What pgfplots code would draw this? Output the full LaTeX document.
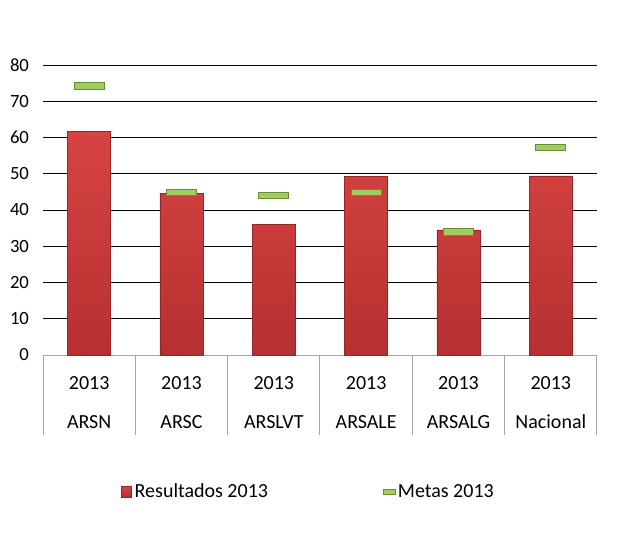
\documentclass[border=0pt]{standalone}
\usepackage{fontspec}
\setmainfont{Carlito}
\usepackage{pgfplots}
\pgfplotsset{compat=1.18}
\definecolor{barlight}{RGB}{214,68,66}
\definecolor{bardark}{RGB}{182,48,48}
\definecolor{baredge}{RGB}{150,38,38}
\definecolor{metafill}{RGB}{160,205,95}
\definecolor{metaedge}{RGB}{105,140,55}
\pgfdeclareplotmark{metabar}{%
  \pgfpathrectangle{\pgfqpoint{-11.25pt}{-2.4pt}}{\pgfqpoint{22.5pt}{4.8pt}}%
  \pgfusepathqfillstroke}
\begin{document}
\begin{tikzpicture}
\path[use as bounding box] (0,0) rectangle (468.75pt,399.75pt);
\begin{axis}[
  at={(32.25pt,133.5pt)}, anchor=south west,
  scale only axis, width=415.5pt, height=217.5pt,
  xmin=-0.5, xmax=5.5, ymin=0, ymax=80,
  axis x line*=bottom, axis y line*=left,
  x axis line style={draw=gray!70, line width=0.75pt},
  y axis line style={draw=none},
  ytick={0,10,...,80},
  ymajorgrids, grid style={black, line width=0.75pt},
  ytick style={draw=none},
  yticklabel style={font=\fontsize{14}{16}\selectfont, xshift=-7pt},
  /pgf/number format/assume math mode=true,
  xtick={0,...,5},
  major tick length=0pt,
  xticklabels={{2013\\ARSN},{2013\\ARSC},{2013\\ARSLVT},{2013\\ARSALE},{2013\\ARSALG},{2013\\Nacional}},
  xticklabel style={align=center, font=\fontsize{15}{29.5}\selectfont, yshift=-12.5pt},
  extra x ticks={-0.5,0.5,1.5,2.5,3.5,4.5,5.5},
  extra x tick labels={},
  extra x tick style={grid=none, major tick length=60pt, tick align=outside,
     xtick style={draw=gray!70, line width=0.75pt}},
  legend style={at={(0.48,-0.472)}, anchor=center, draw=none, fill=none,
     legend columns=2, font=\fontsize{15}{18}\selectfont,
     /tikz/every even column/.append style={column sep=84pt},
     legend cell align=left},
]
\addplot[ybar, bar width=32.25pt, draw=baredge, line width=0.5pt,
   top color=barlight, bottom color=bardark,
   legend image code/.code={\draw[fill=bardark, draw=baredge] (0pt,-3.8pt) rectangle (7.5pt,3.8pt);}]
  coordinates {(0,61.6) (1,44.6) (2,36.0) (3,49.2) (4,34.5) (5,49.4)};
\addlegendentry{Resultados 2013}
\addplot[only marks, mark=metabar, mark options={fill=metafill, draw=metaedge, line width=0.6pt},
   legend image code/.code={\draw[fill=metafill, draw=metaedge] (0pt,-1.6pt) rectangle (9pt,1.6pt);}]
  coordinates {(0,74.2) (1,44.9) (2,44.0) (3,44.8) (4,34.0) (5,57.3)};
\addlegendentry{Metas 2013}
\end{axis}
\end{tikzpicture}
\end{document}
